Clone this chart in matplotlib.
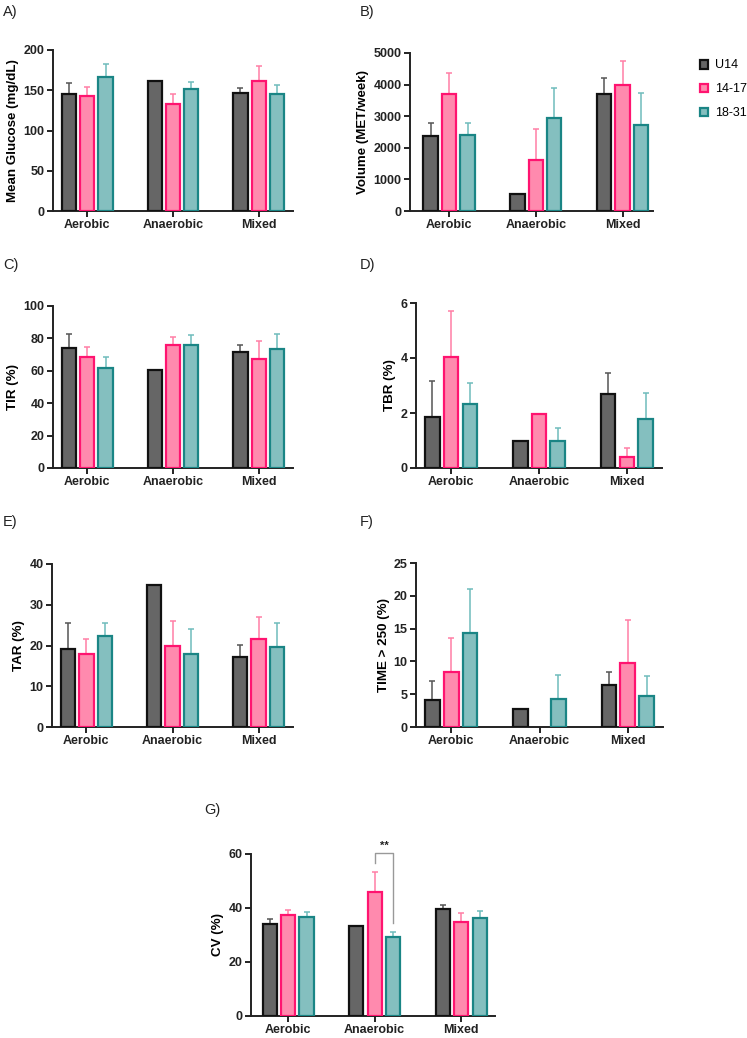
import numpy as np
import matplotlib
matplotlib.use("Agg")
import matplotlib.pyplot as plt
from matplotlib.patches import Patch

plt.rcParams['font.family'] = ['Liberation Sans', 'DejaVu Sans']

categories = ["Aerobic", "Anaerobic", "Mixed"]
groups = ["U14", "14-17", "18-31"]

# mean values, one list per age group (Aerobic, Anaerobic, Mixed)
glucose_u14 = [145, 162, 146]
glucose_1417 = [143, 133, 162]
glucose_1831 = [167, 151, 145]
glucose_top_u14 = [159, None, 153]
glucose_top_1417 = [154, 145, 180]
glucose_top_1831 = [182, 160, 156]

volume_u14 = [2370, 540, 3690]
volume_1417 = [3690, 1620, 3980]
volume_1831 = [2400, 2950, 2720]
volume_top_u14 = [2790, None, 4220]
volume_top_1417 = [4360, 2590, 4750]
volume_top_1831 = [2790, 3890, 3730]

tir_u14 = [74, 60.7, 71.6]
tir_1417 = [68.3, 76.1, 67.3]
tir_1831 = [61.9, 75.9, 73.3]
tir_top_u14 = [82.7, None, 76]
tir_top_1417 = [74.7, 81, 78.2]
tir_top_1831 = [68.3, 81.9, 82.7]

tbr_u14 = [1.84, 0.99, 2.69]
tbr_1417 = [4.03, 1.98, 0.4]
tbr_1831 = [2.32, 0.99, 1.78]
tbr_top_u14 = [3.18, None, 3.44]
tbr_top_1417 = [5.7, None, 0.74]
tbr_top_1831 = [3.09, 1.44, 2.72]

tar_u14 = [19.1, 34.9, 17.3]
tar_1417 = [17.8, 19.9, 21.5]
tar_1831 = [22.4, 18.0, 19.6]
tar_top_u14 = [25.6, None, 20.1]
tar_top_1417 = [21.5, 26.1, 27.0]
tar_top_1831 = [25.4, 24.0, 25.6]

t250_u14 = [4.1, 2.8, 6.4]
t250_1417 = [8.4, 0, 9.8]
t250_1831 = [14.4, 4.3, 4.7]
t250_top_u14 = [7.0, None, 8.4]
t250_top_1417 = [13.5, None, 16.3]
t250_top_1831 = [21.1, 7.9, 7.8]

cv_u14 = [34.2, 33.5, 39.5]
cv_1417 = [37.3, 45.9, 34.9]
cv_1831 = [36.5, 29.4, 36.2]
cv_top_u14 = [35.8, None, 41.0]
cv_top_1417 = [39.3, 53.3, 38.0]
cv_top_1831 = [38.4, 31.1, 38.9]

fills = ["#666666", "#ff8aae", "#84bfbf"]
edges = ["#111111", "#ff1470", "#1a8585"]
errcols = ["#555555", "#ff7fa6", "#6fbcbc"]

W, H = 747, 1038
fig = plt.figure(figsize=(W / 100, H / 100), dpi=100)


def px_axes(l, r, t, b):
    return fig.add_axes([l / W, 1 - b / H, (r - l) / W, (b - t) / H])


def bar_panel(ax, means, tops, ylabel, ymax, step, xlim=(-0.4, 2.4)):
    x = np.arange(len(categories))
    off = 0.213
    for i, (m, tp) in enumerate(zip(means, tops)):
        xs = x + (i - 1) * off
        # a zero mean shows no bar at all in the source figure
        ecs = [edges[i] if v > 0 else "none" for v in m]
        ax.bar(xs, m, width=0.165, color=fills[i], edgecolor=ecs,
               linewidth=1.6, zorder=3)
        for xx, mm, tt in zip(xs, m, tp):
            if tt is None:
                continue
            ax.errorbar(xx, mm, yerr=[[0], [tt - mm]], fmt="none",
                        ecolor=errcols[i], elinewidth=1.1, capsize=2,
                        capthick=1.1, zorder=2)
    ax.set_xlim(*xlim)
    ax.set_ylim(0, ymax)
    ax.set_yticks(np.arange(0, ymax + step / 2, step))
    ax.set_xticks(x)
    ax.set_xticklabels(categories)
    ax.set_ylabel(ylabel, fontsize=9.6, fontweight="bold", labelpad=3)
    for s in ["top", "right"]:
        ax.spines[s].set_visible(False)
    for s in ["left", "bottom"]:
        ax.spines[s].set_linewidth(1.4)
        ax.spines[s].set_color("#222222")
    ax.tick_params(axis="both", length=4, width=1.4, color="#222222",
                   labelsize=9, pad=2)
    for lab in ax.get_xticklabels() + ax.get_yticklabels():
        lab.set_fontweight("bold")
        lab.set_color("#222222")


axA = px_axes(53, 293, 50, 211)
bar_panel(axA, [glucose_u14, glucose_1417, glucose_1831],
          [glucose_top_u14, glucose_top_1417, glucose_top_1831],
          "Mean Glucose (mg/dL)", 200, 50)

axB = px_axes(410, 653, 53, 211)
bar_panel(axB, [volume_u14, volume_1417, volume_1831],
          [volume_top_u14, volume_top_1417, volume_top_1831],
          "Volume (MET/week)", 5000, 1000, xlim=(-0.45, 2.35))

axC = px_axes(53, 293, 306, 468)
bar_panel(axC, [tir_u14, tir_1417, tir_1831],
          [tir_top_u14, tir_top_1417, tir_top_1831],
          "TIR (%)", 100, 20)

axD = px_axes(416, 662, 303, 468)
bar_panel(axD, [tbr_u14, tbr_1417, tbr_1831],
          [tbr_top_u14, tbr_top_1417, tbr_top_1831],
          "TBR (%)", 6, 2)

axE = px_axes(52, 293, 564, 727)
bar_panel(axE, [tar_u14, tar_1417, tar_1831],
          [tar_top_u14, tar_top_1417, tar_top_1831],
          "TAR (%)", 40, 10)

axF = px_axes(416, 663, 563, 727)
bar_panel(axF, [t250_u14, t250_1417, t250_1831],
          [t250_top_u14, t250_top_1417, t250_top_1831],
          "TIME > 250 (%)", 25, 5)

axG = px_axes(251, 495, 854, 1016)
bar_panel(axG, [cv_u14, cv_1417, cv_1831],
          [cv_top_u14, cv_top_1417, cv_top_1831],
          "CV (%)", 60, 20, xlim=(-0.43, 2.39))

# significance bracket between 14-17 and 18-31 in Anaerobic
bx1, bx2 = 1.0, 1.0 + 0.213
axG.plot([bx1, bx1, bx2, bx2], [56.5, 60.5, 60.5, 34.6], color="#999999",
         lw=1.0, clip_on=False, zorder=4)
axG.text((bx1 + bx2) / 2, 61.2, "**", ha="center", va="bottom",
         fontsize=8, fontweight="bold", color="#222222")

# panel letters
for lab, (px, py) in zip(["A)", "B)", "C)", "D)", "E)", "F)", "G)"],
                         [(3, 12), (360, 12), (3, 265), (360, 265),
                          (3, 522), (360, 522), (204, 810)]):
    fig.text(px / W, 1 - py / H, lab, fontsize=10.5, va="center", ha="left",
             color="#222222")

handles = [Patch(facecolor=fills[i], edgecolor=edges[i], linewidth=1.6)
           for i in range(3)]
fig.legend(handles, groups, loc="upper left",
           bbox_to_anchor=(692 / W, 1 - 52 / H), frameon=False,
           fontsize=9, handlelength=0.7, handleheight=0.7,
           handletextpad=0.55, labelspacing=0.95, borderaxespad=0.2)

fig.savefig("out.png", dpi=100)
